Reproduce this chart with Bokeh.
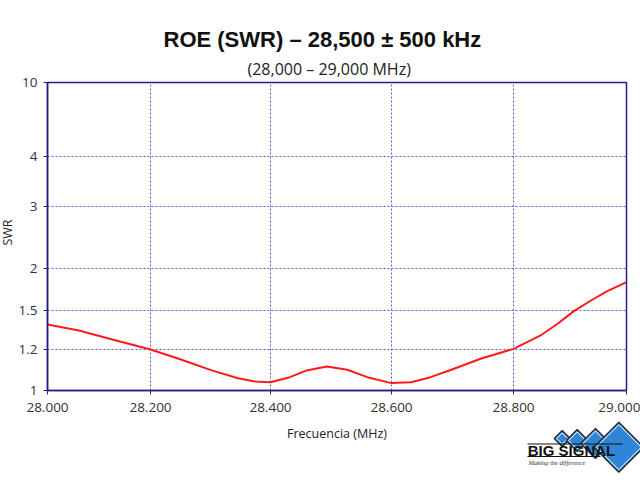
import numpy as np
from bokeh.plotting import figure
from bokeh.models import FixedTicker, CustomJSTickFormatter, Range1d, Title
from bokeh.core.properties import value
from bokeh.core.templates import get_env
from bokeh.embed import file_html
from bokeh.resources import INLINE

# ---- data ----
freq_mhz = [28.000, 28.061, 28.126, 28.200, 28.247, 28.302, 28.346, 28.374,
            28.400, 28.432, 28.460, 28.493, 28.527, 28.560, 28.600, 28.632,
            28.664, 28.697, 28.746, 28.800, 28.848, 28.878, 28.907, 28.937,
            28.966, 29.000]
swr = [1.392, 1.346, 1.277, 1.200, 1.155, 1.098, 1.060, 1.044,
       1.040, 1.065, 1.098, 1.117, 1.101, 1.065, 1.036, 1.040,
       1.065, 1.100, 1.155, 1.205, 1.308, 1.398, 1.495, 1.619,
       1.730, 1.837]

freq_ticks = [28.0, 28.2, 28.4, 28.6, 28.8, 29.0]
freq_tick_labels = ["28.000", "28.200", "28.400", "28.600", "28.800", "29.000"]
swr_ticks = [1, 1.2, 1.5, 2, 3, 4, 10]
swr_tick_labels = ["1", "1.2", "1.5", "2", "3", "4", "10"]

title_text = "ROE (SWR) \u2013 28,500 \u00b1 500 kHz"
subtitle_text = "(28,000 \u2013 29,000 MHz)"
x_label = "Frecuencia (MHz)"
y_label = "SWR"
logo_text = "BIG SIGNAL"
logo_tagline = "Making the difference"

# ---- the original chart's non-uniform axis scales (frame pixels) ----
freq_axis_pos = [0, 103, 223, 344, 466, 579]
swr_axis_pos = [0, 41, 80, 122, 184, 234, 308]

x = np.interp(freq_mhz, freq_ticks, freq_axis_pos)
y = np.interp(swr, swr_ticks, swr_axis_pos)

W, H = 640, 480
LEFT, TOP = 47, 82
FRAME_W, FRAME_H = 579, 308
NAVY = "#20208a"

p = figure(width=W, height=H, x_range=Range1d(0, FRAME_W),
           y_range=Range1d(0, FRAME_H), output_backend="svg",
           toolbar_location=None, title=None,
           min_border_left=LEFT, min_border_right=W - LEFT - FRAME_W,
           min_border_top=TOP, min_border_bottom=H - TOP - FRAME_H)
p.background_fill_color = "white"
p.border_fill_color = "white"
p.outline_line_color = NAVY
p.outline_line_width = 1.5

# titles (above the frame; offsets from the frame's left edge)
p.add_layout(Title(text=subtitle_text, align="left", offset=200,
                   text_font="Open Sans", text_font_size="16px",
                   text_font_style="normal", text_color="#222222",
                   standoff=6), "above")
p.add_layout(Title(text=title_text, align="left", offset=116,
                   text_font="Liberation Sans", text_font_size="22px",
                   text_font_style="bold", text_color="#111111",
                   standoff=2), "above")

fmt_code = """
const i = pos.findIndex(v => Math.abs(v - tick) < 1e-6);
return i >= 0 ? labels[i] : "";
"""
p.xaxis.ticker = FixedTicker(ticks=freq_axis_pos)
p.xaxis.formatter = CustomJSTickFormatter(
    args=dict(pos=freq_axis_pos, labels=freq_tick_labels), code=fmt_code)
p.yaxis.ticker = FixedTicker(ticks=swr_axis_pos)
p.yaxis.formatter = CustomJSTickFormatter(
    args=dict(pos=swr_axis_pos, labels=swr_tick_labels), code=fmt_code)

for ax in (p.xaxis, p.yaxis):
    ax.axis_line_color = NAVY
    ax.axis_line_width = 1.5
    ax.major_tick_line_color = NAVY
    ax.major_tick_in = 0
    ax.major_tick_out = 4
    ax.minor_tick_line_color = None
    ax.major_label_text_font = "Open Sans"
    ax.major_label_text_font_size = "13.5px"
    ax.major_label_text_color = "#333333"
    ax.axis_label_text_font = "Open Sans"
    ax.axis_label_text_font_style = "normal"
    ax.axis_label_text_color = "#222222"
p.xaxis.major_label_standoff = 8
p.yaxis.major_label_standoff = 6

p.xaxis.axis_label = x_label
p.xaxis.axis_label_text_font_size = "12.5px"
p.xaxis.axis_label_standoff = 10

p.xgrid.ticker = FixedTicker(ticks=freq_axis_pos)
p.ygrid.ticker = FixedTicker(ticks=swr_axis_pos)
p.grid.grid_line_color = "#5c5cc8"
p.grid.grid_line_dash = "2 2"
p.grid.grid_line_width = 1

p.line(x, y, line_color="#ff1a1a", line_width=2)

# ---- transparent overlay canvas (same size, stacked on top of p) ----
ov = figure(width=W, height=H, x_range=Range1d(0, W), y_range=Range1d(0, H),
            x_axis_type=None, y_axis_type=None, output_backend="svg",
            toolbar_location=None, title=None, min_border=0)
ov.background_fill_alpha = 0
ov.border_fill_alpha = 0
ov.outline_line_color = None


def txt(s, px, py, size, font="Open Sans", style="normal", color="#222222",
        align="center", angle=0.0):
    ov.text(x=[px], y=[H - py], text=[s], text_font=value(font),
            text_font_size=size, text_font_style=style, text_color=color,
            text_align=align, text_baseline="middle", angle=angle)


txt(y_label, 7, 232, "12.5px", angle=np.pi / 2)

# logo: four overlapping diamonds, lines and lettering
dia = [(561.7, 438, 8), (576.7, 440, 11), (595, 443, 15), (618.3, 446.7, 25)]
for cx, cy, r in dia:
    by = H - cy
    ov.patch([cx - r, cx, cx + r, cx], [by, by + r, by, by - r],
             fill_color="#2f86d6", line_color="#2a2a2a", line_width=1.3)
    r2 = r - 2.5
    ov.patch([cx - r2, cx, cx + r2, cx], [by, by + r2, by, by - r2],
             fill_alpha=0, line_color="white", line_width=1)
ov.segment(x0=[527, 527], y0=[H - 443.5, H - 456], x1=[622, 600],
           y1=[H - 443.5, H - 456], line_color="#111111", line_width=1.2)
txt(logo_text, 571, 450, "15px", font="Liberation Sans", style="bold",
    color="#111111")
txt(logo_tagline, 528, 461.5, "6.5px", font="Liberation Serif",
    style="italic", color="#333333", align="left")

STACK = get_env().from_string("""{% extends base %}
{% block contents %}
<div style="position: relative; width: 640px; height: 480px; overflow: hidden;">
{% for doc in docs %}{% for root in doc.roots %}
<div style="position: absolute; left: 0px; top: 0px;">
<div id="{{ root.elementid }}" data-root-id="{{ root.id }}" style="display: contents;"></div>
</div>
{% endfor %}{% endfor %}
</div>
{% endblock %}
""")

try:
    html = file_html([p, ov], INLINE, template=STACK)
    if "position: absolute" not in html:
        raise RuntimeError("template not applied")
except Exception:
    p.yaxis.axis_label = y_label
    p.yaxis.axis_label_standoff = -6
    p.yaxis.axis_label_text_font_size = "12px"
    html = file_html(p, INLINE)

open("out.html", "w").write(html)
